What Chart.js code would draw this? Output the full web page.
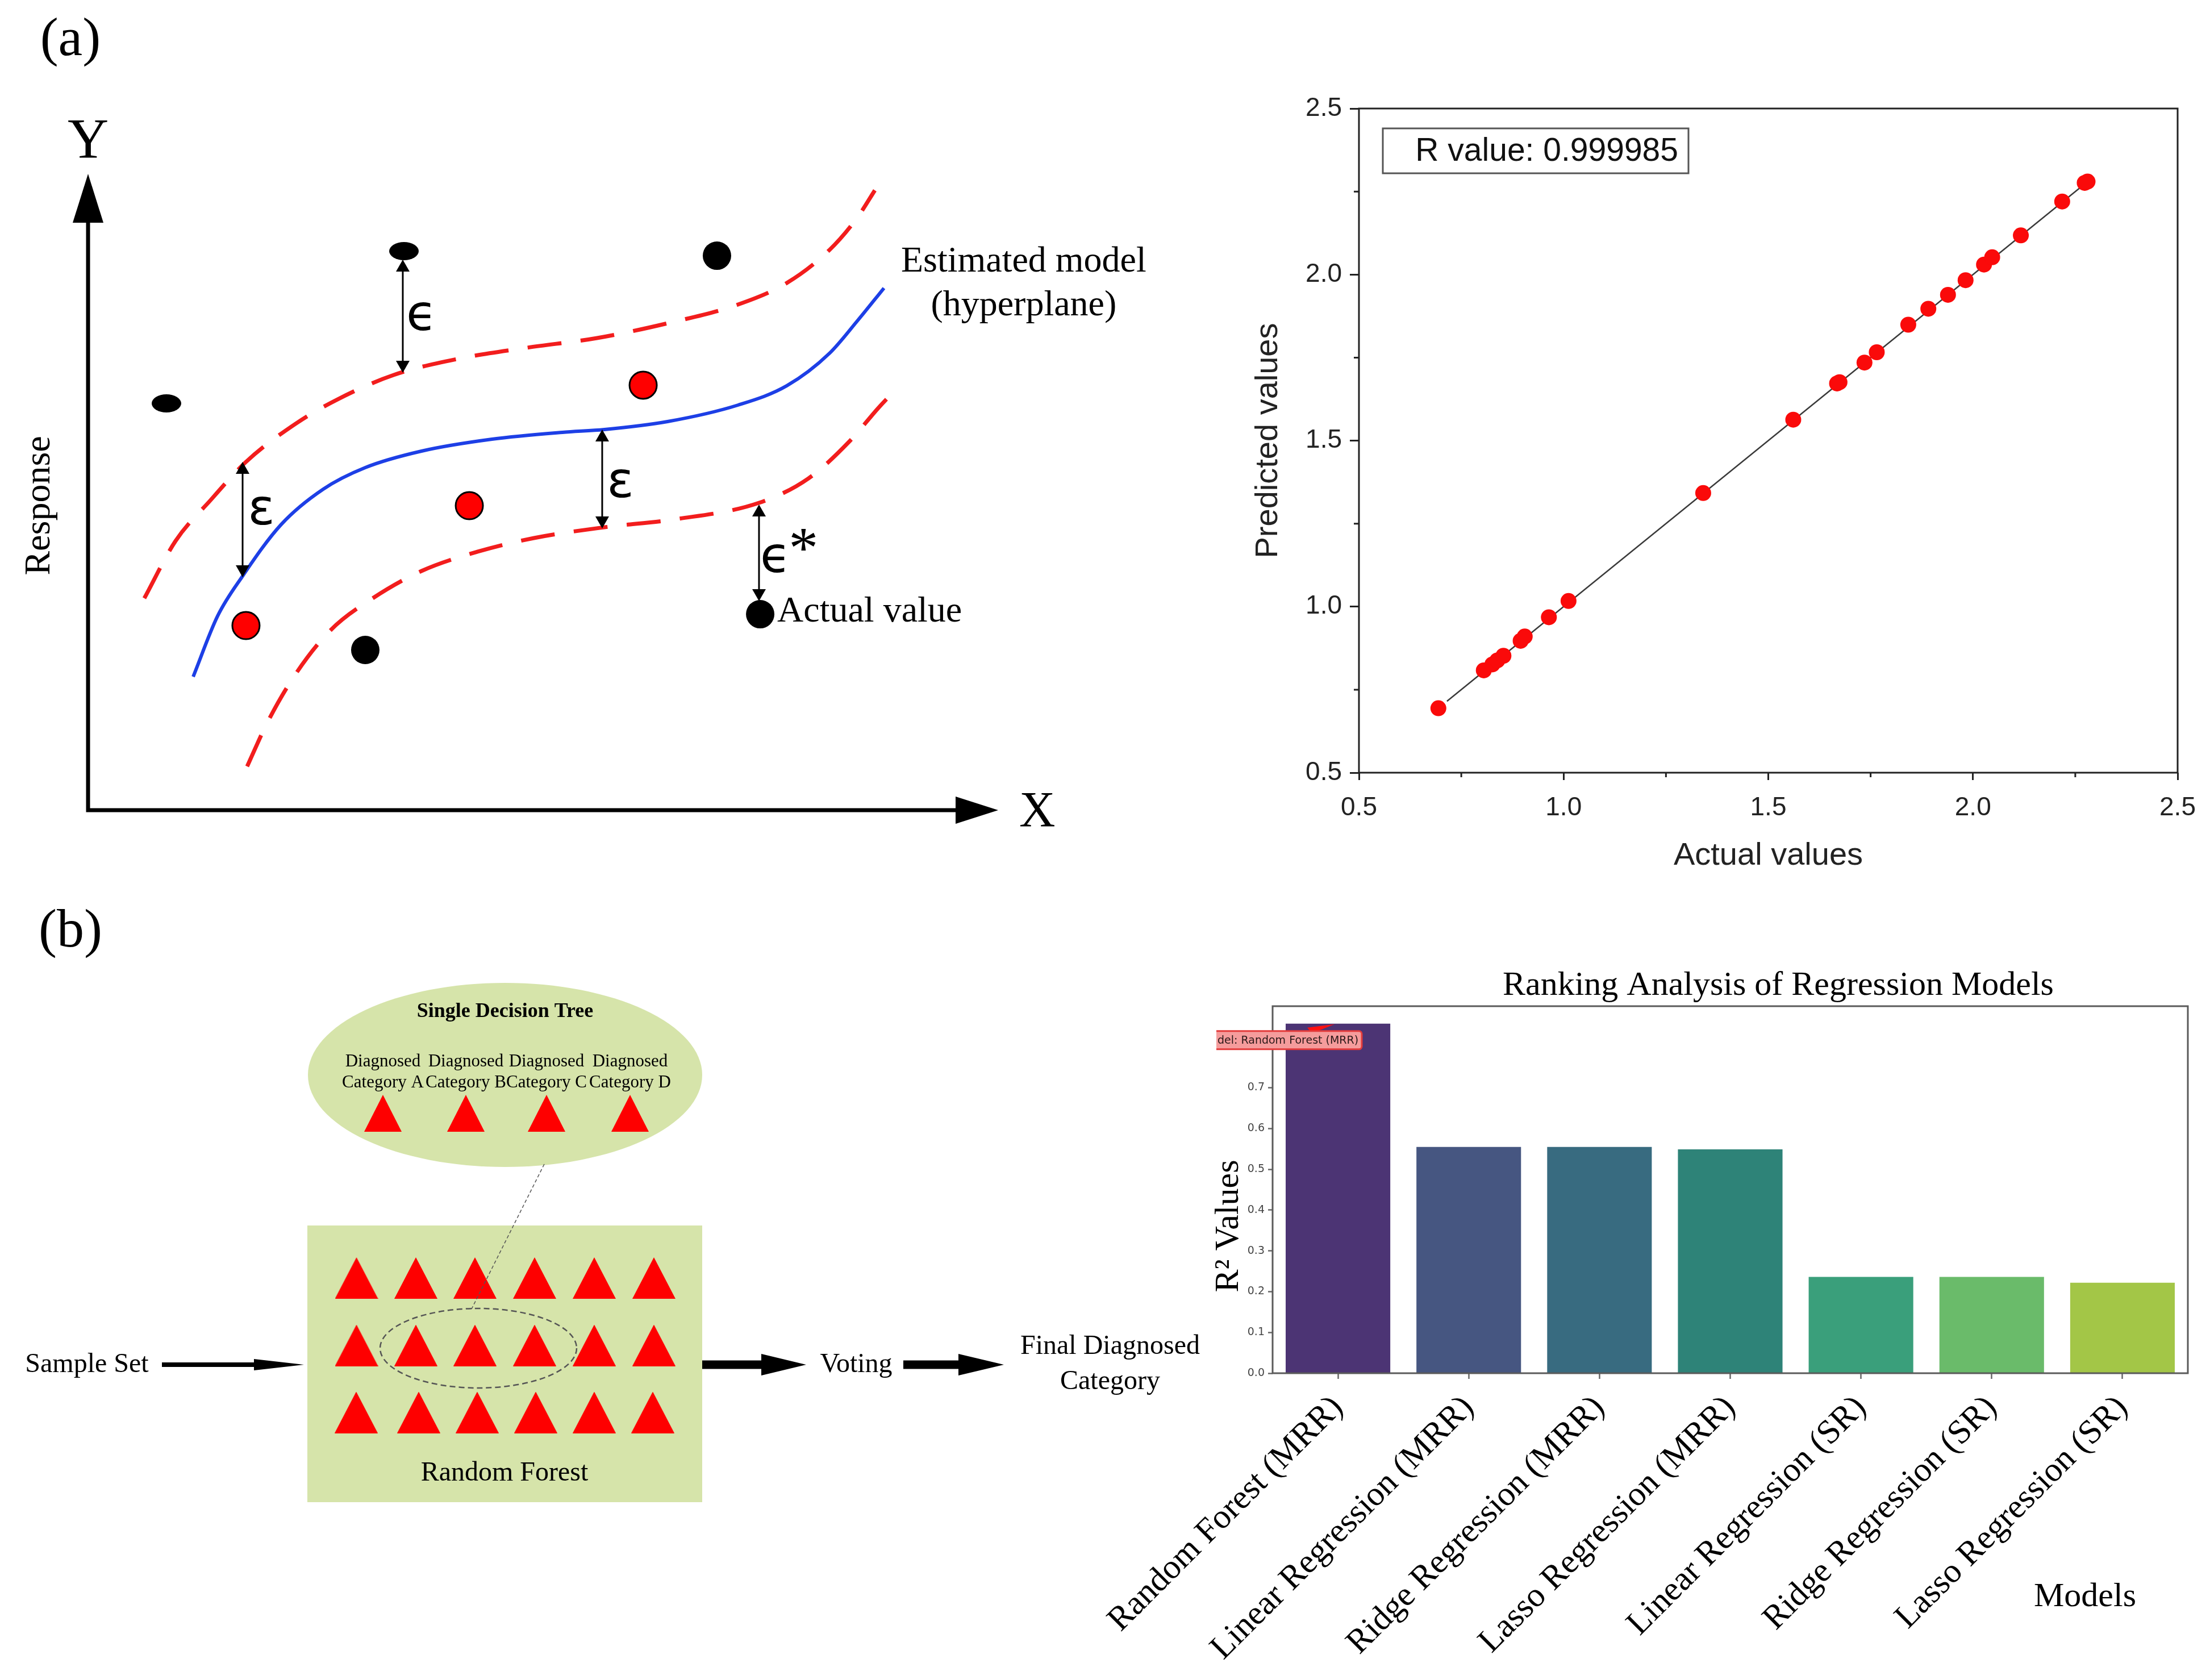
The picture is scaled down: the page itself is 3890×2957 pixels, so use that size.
<!DOCTYPE html>
<html>
<head>
<meta charset="utf-8">
<title>SVR and random forest figure</title>
<script src="https://cdn.jsdelivr.net/npm/chart.js@4.4.1/dist/chart.umd.min.js"></script>
<style>
  html, body { margin: 0; padding: 0; background: #fff; }
  body { position: relative; width: 3890px; height: 2957px; overflow: hidden; }
  canvas { position: absolute; }
</style>
</head>
<body>
<canvas id="svr-chart" width="2150" height="1500" style="left:0;top:0;width:2150px;height:1500px"></canvas>
<canvas id="fit-chart" width="1740" height="1480" style="left:2150px;top:100px;width:1740px;height:1480px"></canvas>
<canvas id="forest-chart" width="2140" height="1200" style="left:0;top:1560px;width:2140px;height:1200px"></canvas>
<canvas id="rank-chart" width="2010" height="1297" style="left:1880px;top:1660px;width:2010px;height:1297px"></canvas>
<script>
// (a) left: SVR sketch, values in axis units (origin = axis corner, 10 = arrow tip)
const modelCurveX = [1.155, 1.423, 1.698, 2.122, 2.584, 3.046, 3.664, 4.438, 5.212, 5.674, 6.367, 7.141, 7.678, 8.146, 8.452, 8.745];
const modelCurveY = [2.098, 3.050, 3.679, 4.490, 5.045, 5.384, 5.643, 5.830, 5.938, 5.982, 6.107, 6.366, 6.670, 7.179, 7.688, 8.205];
const upperTubeX = [0.618, 0.961, 1.348, 1.735, 2.278, 2.740, 3.358, 4.051, 4.825, 5.593, 6.367, 7.141, 7.678, 8.146, 8.452, 8.645];
const upperTubeY = [3.330, 4.230, 4.875, 5.473, 6.071, 6.455, 6.839, 7.089, 7.268, 7.420, 7.652, 7.946, 8.286, 8.804, 9.313, 9.741];
const lowerTubeX = [1.748, 1.966, 2.278, 2.659, 3.127, 3.664, 4.282, 4.900, 5.674, 6.448, 7.372, 7.915, 8.377, 8.683, 8.914];
const lowerTubeY = [0.688, 1.366, 2.134, 2.821, 3.330, 3.759, 4.063, 4.277, 4.446, 4.571, 4.830, 5.214, 5.813, 6.321, 6.670];
const outsideX = [3.046, 6.910, 7.385];
const outsideY = [2.518, 8.714, 3.080];
const ovalX = [3.471, 0.861];
const ovalY = [8.786, 6.393];
const insideX = [1.735, 4.189, 6.099];
const insideY = [2.902, 4.786, 6.679];
const marginX = [3.458, 1.698, 5.649, 7.372];
const marginTop = [8.652, 5.473, 5.982, 4.804];
const marginBottom = [6.875, 3.661, 4.429, 3.286];

// (a) right: actual vs predicted
const actualValues = [0.694, 0.805, 0.826, 0.838, 0.853, 0.895, 0.905, 0.964, 1.012, 1.341, 1.561, 1.668, 1.674, 1.735, 1.765, 1.842, 1.891, 1.939, 1.982, 2.027, 2.047, 2.117, 2.218, 2.273, 2.280];
const predictedValues = [0.694, 0.808, 0.826, 0.838, 0.852, 0.897, 0.910, 0.968, 1.017, 1.342, 1.563, 1.672, 1.676, 1.735, 1.766, 1.849, 1.897, 1.939, 1.983, 2.030, 2.052, 2.118, 2.220, 2.276, 2.280];
const fitLineX = [0.715, 2.285];
const fitLineY = [0.715, 2.285];
const fitTicks = [0.5, 1.0, 1.5, 2.0, 2.5];
const fitMinorTicks = [0.75, 1.25, 1.75, 2.25];

// (b) left: random forest sketch, units of 10 px on the panel
const forestRow1X = [62.75, 73.2, 83.6, 94.1, 104.6, 115.1];
const forestRow2X = [62.75, 73.2, 83.6, 94.1, 104.6, 115.1];
const forestRow3X = [62.7, 73.7, 84.0, 94.3, 104.6, 114.9];
const forestRowY = [68.95, 80.8, 92.6];
const leafX = [67.4, 82.0, 96.2, 110.9];
const leafY = [39.95, 39.95, 39.95, 39.95];
const leafNames = ['Category A', 'Category B', 'Category C', 'Category D'];
const flowStart = [28.5, 123.6, 159.0];
const flowShaftEnd = [44.7, 134.0, 168.7];
const flowTip = [53.5, 141.9, 176.7];

// (b) right: ranking of models
const modelNames = ['Random Forest (MRR)', 'Linear Regression (MRR)', 'Ridge Regression (MRR)', 'Lasso Regression (MRR)', 'Linear Regression (SR)', 'Ridge Regression (SR)', 'Lasso Regression (SR)'];
const r2Values = [0.857, 0.555, 0.555, 0.549, 0.236, 0.236, 0.222];
const r2Ticks = [0.0, 0.1, 0.2, 0.3, 0.4, 0.5, 0.6, 0.7, 0.8];
const viridisBars = ['#4c3474', '#465681', '#386b80', '#2e8378', '#3a9f7b', '#6abb6a', '#a3c647'];

const SERIF = 'Liberation Serif', ARIAL = 'Liberation Sans', DEJAVU = 'DejaVu Sans';

Chart.defaults.animation = false;
Chart.defaults.events = [];
Chart.defaults.plugins.legend.display = false;
Chart.defaults.plugins.tooltip.enabled = false;

const pts = (xs, ys) => xs.map((v, i) => ({ x: v, y: ys[i] }));

function drawText(ctx, text, px, py, font, align, rot) {
  ctx.save();
  ctx.translate(px, py);
  ctx.rotate(rot || 0);
  ctx.font = font;
  ctx.textAlign = align || 'center';
  ctx.textBaseline = 'middle';
  ctx.fillStyle = '#000';
  ctx.fillText(text, 0, 0);
  ctx.restore();
}

// filled arrow head, tip at (tx,ty), (dx,dy) = direction it points
function headAt(ctx, tx, ty, dx, dy, len, half) {
  const bx = tx - dx * len, by = ty - dy * len;
  ctx.beginPath();
  ctx.moveTo(tx, ty);
  ctx.lineTo(bx - dy * half, by + dx * half);
  ctx.lineTo(bx + dy * half, by - dx * half);
  ctx.closePath();
  ctx.fill();
}

function sprite(w, h, paint) {
  const c = document.createElement('canvas');
  c.width = w; c.height = h;
  paint(c.getContext('2d'), w, h);
  return c;
}
const ovalSprite = sprite(52, 32, (g, w, h) => {
  g.fillStyle = '#000';
  g.beginPath(); g.ellipse(w / 2, h / 2, w / 2, h / 2, 0, 0, Math.PI * 2); g.fill();
});
const triSprite = (w, h) => sprite(w, h, (g) => {
  g.fillStyle = '#fe0000';
  g.beginPath(); g.moveTo(w / 2, 0); g.lineTo(w, h); g.lineTo(0, h); g.closePath(); g.fill();
});
const forestTri = triSprite(76, 73);
const leafTri = triSprite(66, 65);

// ---------------- (a) SVR sketch ----------------
const svrDecor = {
  id: 'svrDecor',
  afterDatasetsDraw(chart) {
    const { ctx, scales: { x, y } } = chart;
    const X = v => x.getPixelForValue(v), Y = v => y.getPixelForValue(v);
    ctx.save();
    ctx.fillStyle = '#000';
    ctx.strokeStyle = '#000';
    ctx.lineWidth = 7;
    ctx.beginPath();
    ctx.moveTo(X(0), Y(10) + 80);
    ctx.lineTo(X(0), Y(0));
    ctx.lineTo(X(10) - 70, Y(0));
    ctx.stroke();
    headAt(ctx, X(0), Y(10), 0, -1, 86, 27);
    headAt(ctx, X(10), Y(0), 1, 0, 75, 24);

    ctx.lineWidth = 3;
    marginX.forEach((m, i) => {
      const px = X(m), top = Y(marginTop[i]), bot = Y(marginBottom[i]);
      ctx.beginPath(); ctx.moveTo(px, top + 16); ctx.lineTo(px, bot - 16); ctx.stroke();
      headAt(ctx, px, top, 0, -1, 21, 12);
      headAt(ctx, px, bot, 0, 1, 21, 12);
    });

    drawText(ctx, '(a)', X(-0.194), Y(12.09), `96px ${SERIF}`);
    drawText(ctx, 'Y', X(0), Y(10.49), `100px ${SERIF}`);
    drawText(ctx, 'X', X(10.43), Y(-0.04), `88px ${SERIF}`);
    drawText(ctx, 'Response', X(-0.531), Y(4.786), `64px ${SERIF}`, 'center', -Math.PI / 2);
    drawText(ctx, 'Estimated model', X(10.28), Y(8.616), `64px ${SERIF}`);
    drawText(ctx, '(hyperplane)', X(10.28), Y(7.929), `64px ${SERIF}`);
    drawText(ctx, 'Actual value', X(7.572), Y(3.116), `64px ${SERIF}`, 'left');
    drawText(ctx, '\u03F5', X(3.664), Y(7.75), `88px ${DEJAVU}`);
    drawText(ctx, '\u03B5', X(1.904), Y(4.696), `88px ${DEJAVU}`);
    drawText(ctx, '\u03B5', X(5.849), Y(5.125), `88px ${DEJAVU}`);
    drawText(ctx, '\u03F5', X(7.553), Y(3.946), `88px ${DEJAVU}`);
    drawText(ctx, '*', X(7.86), Y(4.06), `104px ${SERIF}`);
    ctx.restore();
  }
};

const curve = (data, color, width, dash) => ({
  type: 'line', data, borderColor: color, borderWidth: width, borderDash: dash || [],
  pointRadius: 0, cubicInterpolationMode: 'monotone', fill: false, order: 3
});

new Chart(document.getElementById('svr-chart'), {
  type: 'scatter',
  data: {
    datasets: [
      curve(pts(upperTubeX, upperTubeY), '#f21d1d', 7, [60, 34]),
      curve(pts(lowerTubeX, lowerTubeY), '#f21d1d', 7, [60, 34]),
      curve(pts(modelCurveX, modelCurveY), '#1d3fe6', 6),
      { data: pts(ovalX, ovalY), pointStyle: ovalSprite, pointRadius: 20, order: 1 },
      { data: pts(outsideX, outsideY), pointRadius: 25, backgroundColor: '#000', borderWidth: 0, order: 1 },
      { data: pts(insideX, insideY), pointRadius: 24, backgroundColor: '#ff0000', borderColor: '#000', borderWidth: 3, order: 1 }
    ]
  },
  options: {
    responsive: false,
    devicePixelRatio: 1,
    layout: { autoPadding: false, padding: { left: 155, right: 393, top: 306, bottom: 74 } },
    scales: {
      x: { type: 'linear', min: 0, max: 10, display: false },
      y: { type: 'linear', min: 0, max: 10, display: false }
    }
  },
  plugins: [svrDecor]
});

// ---------------- (a) actual vs predicted ----------------
const fitDecor = {
  id: 'fitDecor',
  afterDraw(chart) {
    const { ctx, chartArea: a, scales: { x, y } } = chart;
    ctx.save();
    ctx.strokeStyle = '#222';
    ctx.lineWidth = 3;
    ctx.strokeRect(a.left, a.top, a.right - a.left, a.bottom - a.top);
    ctx.beginPath();
    fitMinorTicks.forEach(v => {
      const px = x.getPixelForValue(v), py = y.getPixelForValue(v);
      ctx.moveTo(px, a.bottom); ctx.lineTo(px, a.bottom + 8);
      ctx.moveTo(a.left, py); ctx.lineTo(a.left - 9, py);
    });
    ctx.stroke();
    // R value box
    const bx = a.left + 42, by = a.top + 35, bw = 538, bh = 79;
    ctx.strokeStyle = '#555';
    ctx.strokeRect(bx, by, bw, bh);
    ctx.font = `57px ${ARIAL}`;
    ctx.fillStyle = '#111';
    ctx.textAlign = 'right';
    ctx.textBaseline = 'middle';
    ctx.fillText('R value: 0.999985', bx + bw - 18, by + bh / 2 + 2);
    ctx.restore();
  }
};

const fitAxis = (title, isX) => ({
  type: 'linear', min: 0.5, max: 2.5,
  afterBuildTicks: s => { s.ticks = fitTicks.map(v => ({ value: v })); },
  afterFit: s => { if (isX) s.height = 220; else s.width = 242; },
  ticks: { callback: v => v.toFixed(1), font: { family: ARIAL, size: 46 }, color: '#222', padding: isX ? 22 : 14, maxRotation: 0 },
  grid: { drawOnChartArea: false, tickLength: isX ? 13 : 16, tickWidth: 3, tickColor: '#222' },
  border: { display: false },
  title: { display: true, text: title, font: { family: ARIAL, size: 56 }, color: '#222', padding: isX ? { top: 0, bottom: 40 } : { top: 49, bottom: 0 } }
});

new Chart(document.getElementById('fit-chart'), {
  type: 'scatter',
  data: {
    datasets: [
      { data: pts(actualValues, predictedValues), pointRadius: 14, backgroundColor: '#fa0a0a', borderWidth: 0, order: 1 },
      { type: 'line', data: pts(fitLineX, fitLineY), borderColor: '#3a3a3a', borderWidth: 2.5, pointRadius: 0, fill: false, order: 2 }
    ]
  },
  options: {
    responsive: false,
    devicePixelRatio: 1,
    layout: { autoPadding: false, padding: { left: 0, right: 57, top: 91, bottom: 0 } },
    scales: { x: fitAxis('Actual values', true), y: fitAxis('Predicted values', false) }
  },
  plugins: [fitDecor]
});

// ---------------- (b) random forest sketch ----------------
const forestDecor = {
  id: 'forestDecor',
  beforeDatasetsDraw(chart) {
    const { ctx, scales: { x, y } } = chart;
    const X = v => x.getPixelForValue(v), Y = v => y.getPixelForValue(v);
    ctx.save();
    ctx.fillStyle = '#d6e4aa';
    ctx.beginPath();
    ctx.ellipse(X(88.9), Y(33.2), X(34.7) - X(0), Y(16.2) - Y(0), 0, 0, Math.PI * 2);
    ctx.fill();
    ctx.fillRect(X(54.1), Y(59.7), X(123.6) - X(54.1), Y(108.4) - Y(59.7));
    ctx.restore();
  },
  afterDatasetsDraw(chart) {
    const { ctx, scales: { x, y } } = chart;
    const X = v => x.getPixelForValue(v), Y = v => y.getPixelForValue(v);
    ctx.save();
    // zoom ring + leader
    ctx.strokeStyle = '#555';
    ctx.lineWidth = 2.5;
    ctx.setLineDash([10, 6]);
    ctx.beginPath();
    ctx.ellipse(X(84.2), Y(81.3), X(17.3) - X(0), Y(7.0) - Y(0), 0, 0, Math.PI * 2);
    ctx.stroke();
    ctx.lineWidth = 1.5;
    ctx.setLineDash([6, 4]);
    ctx.beginPath();
    ctx.moveTo(X(95.8), Y(48.9));
    ctx.lineTo(X(83.0), Y(74.4));
    ctx.stroke();
    ctx.setLineDash([]);

    // flow arrows
    ctx.fillStyle = '#000';
    const fy = Y(84.2);
    flowStart.forEach((s, i) => {
      const thick = i === 0 ? 8 : 15, half = i === 0 ? 10 : 19;
      ctx.fillRect(X(s), fy - thick / 2, X(flowShaftEnd[i]) - X(s) + 1, thick);
      headAt(ctx, X(flowTip[i]), fy, 1, 0, X(flowTip[i]) - X(flowShaftEnd[i]), half);
    });

    drawText(ctx, '(b)', X(12.4), Y(8.1), `96px ${SERIF}`);
    drawText(ctx, 'Single Decision Tree', X(88.9), Y(22.1), `bold 36px ${SERIF}`);
    leafX.forEach((lx, i) => {
      drawText(ctx, 'Diagnosed', X(lx), Y(30.9), `31px ${SERIF}`);
      drawText(ctx, leafNames[i], X(lx), Y(34.6), `31px ${SERIF}`);
    });
    drawText(ctx, 'Random Forest', X(88.8), Y(103.3), `48px ${SERIF}`);
    drawText(ctx, 'Sample Set', X(15.3), Y(84.2), `48px ${SERIF}`);
    drawText(ctx, 'Voting', X(150.7), Y(84.2), `48px ${SERIF}`);
    drawText(ctx, 'Final Diagnosed', X(195.4), Y(81.0), `48px ${SERIF}`);
    drawText(ctx, 'Category', X(195.4), Y(87.2), `48px ${SERIF}`);
    ctx.restore();
  }
};

const rowPts = (xs, ry) => xs.map(v => ({ x: v, y: ry }));
new Chart(document.getElementById('forest-chart'), {
  type: 'scatter',
  data: {
    datasets: [
      { data: rowPts(forestRow1X, forestRowY[0]).concat(rowPts(forestRow2X, forestRowY[1]), rowPts(forestRow3X, forestRowY[2])), pointStyle: forestTri, pointRadius: 30 },
      { data: pts(leafX, leafY), pointStyle: leafTri, pointRadius: 30 }
    ]
  },
  options: {
    responsive: false,
    devicePixelRatio: 1,
    layout: { autoPadding: false, padding: 0 },
    scales: {
      x: { type: 'linear', min: 0, max: 214, display: false },
      y: { type: 'linear', min: 0, max: 120, reverse: true, display: false }
    }
  },
  plugins: [forestDecor]
});

// ---------------- (b) ranking bars ----------------
const rankDecor = {
  id: 'rankDecor',
  afterDraw(chart) {
    const { ctx, chartArea: a, scales: { x, y } } = chart;
    ctx.save();
    ctx.strokeStyle = '#5a5a5a';
    ctx.lineWidth = 3;
    ctx.strokeRect(a.left, a.top, a.right - a.left, a.bottom - a.top);

    drawText(ctx, 'Ranking Analysis of Regression Models', a.left + 890, a.top - 36, `60px ${SERIF}`);
    drawText(ctx, 'R\u00B2 Values', a.left - 77, a.top + 387, `60px ${SERIF}`, 'center', -Math.PI / 2);
    drawText(ctx, 'Models', a.right - 181, a.bottom + 394, `60px ${SERIF}`);

    // best-model callout
    const tipX = x.getPixelForValue(0) - 6, tipY = y.getPixelForValue(r2Values[0]) + 1;
    ctx.fillStyle = '#ff1010';
    ctx.beginPath();
    ctx.moveTo(tipX, tipY);
    ctx.lineTo(tipX - 48, tipY + 6);
    ctx.lineTo(tipX - 40, tipY + 16);
    ctx.closePath();
    ctx.fill();

    const bl = a.left - 99, bt = tipY + 12, bw = 256, bh = 32;
    ctx.beginPath();
    ctx.rect(bl, bt - 4, bw + 6, bh + 8);
    ctx.clip();
    ctx.fillStyle = '#f59c9c';
    ctx.strokeStyle = '#e33b3b';
    ctx.lineWidth = 3;
    ctx.beginPath();
    ctx.roundRect(bl - 20, bt, bw + 20, bh, 5);
    ctx.fill();
    ctx.stroke();
    ctx.font = `19px ${DEJAVU}`;
    ctx.fillStyle = '#2a1818';
    ctx.textAlign = 'left';
    ctx.textBaseline = 'middle';
    ctx.fillText('del: Random Forest (MRR)', bl + 2, bt + bh / 2 + 1);
    ctx.restore();
  }
};

new Chart(document.getElementById('rank-chart'), {
  type: 'bar',
  data: {
    labels: modelNames,
    datasets: [{ data: r2Values, backgroundColor: viridisBars, borderWidth: 0, categoryPercentage: 0.8, barPercentage: 1.0 }]
  },
  options: {
    responsive: false,
    devicePixelRatio: 1,
    layout: { autoPadding: false, padding: { left: 0, right: 39, top: 111, bottom: 0 } },
    scales: {
      x: {
        offset: true,
        afterFit: s => { s.height = 540; },
        grid: { offset: false, drawOnChartArea: false, tickLength: 10, tickWidth: 2.5, tickColor: '#666' },
        border: { display: false },
        ticks: { autoSkip: false, minRotation: 45, maxRotation: 45, padding: 16, font: { family: SERIF, size: 60 }, color: '#000' }
      },
      y: {
        min: 0, max: 0.9,
        afterFit: s => { s.width = 360; },
        afterBuildTicks: s => { s.ticks = r2Ticks.map(v => ({ value: v })); },
        grid: { drawOnChartArea: false, tickLength: 8, tickWidth: 2.5, tickColor: '#666' },
        border: { display: false },
        ticks: { callback: v => v.toFixed(1), padding: 6, font: { family: DEJAVU, size: 19 }, color: '#444' }
      }
    }
  },
  plugins: [rankDecor]
});
</script>
</body>
</html>
